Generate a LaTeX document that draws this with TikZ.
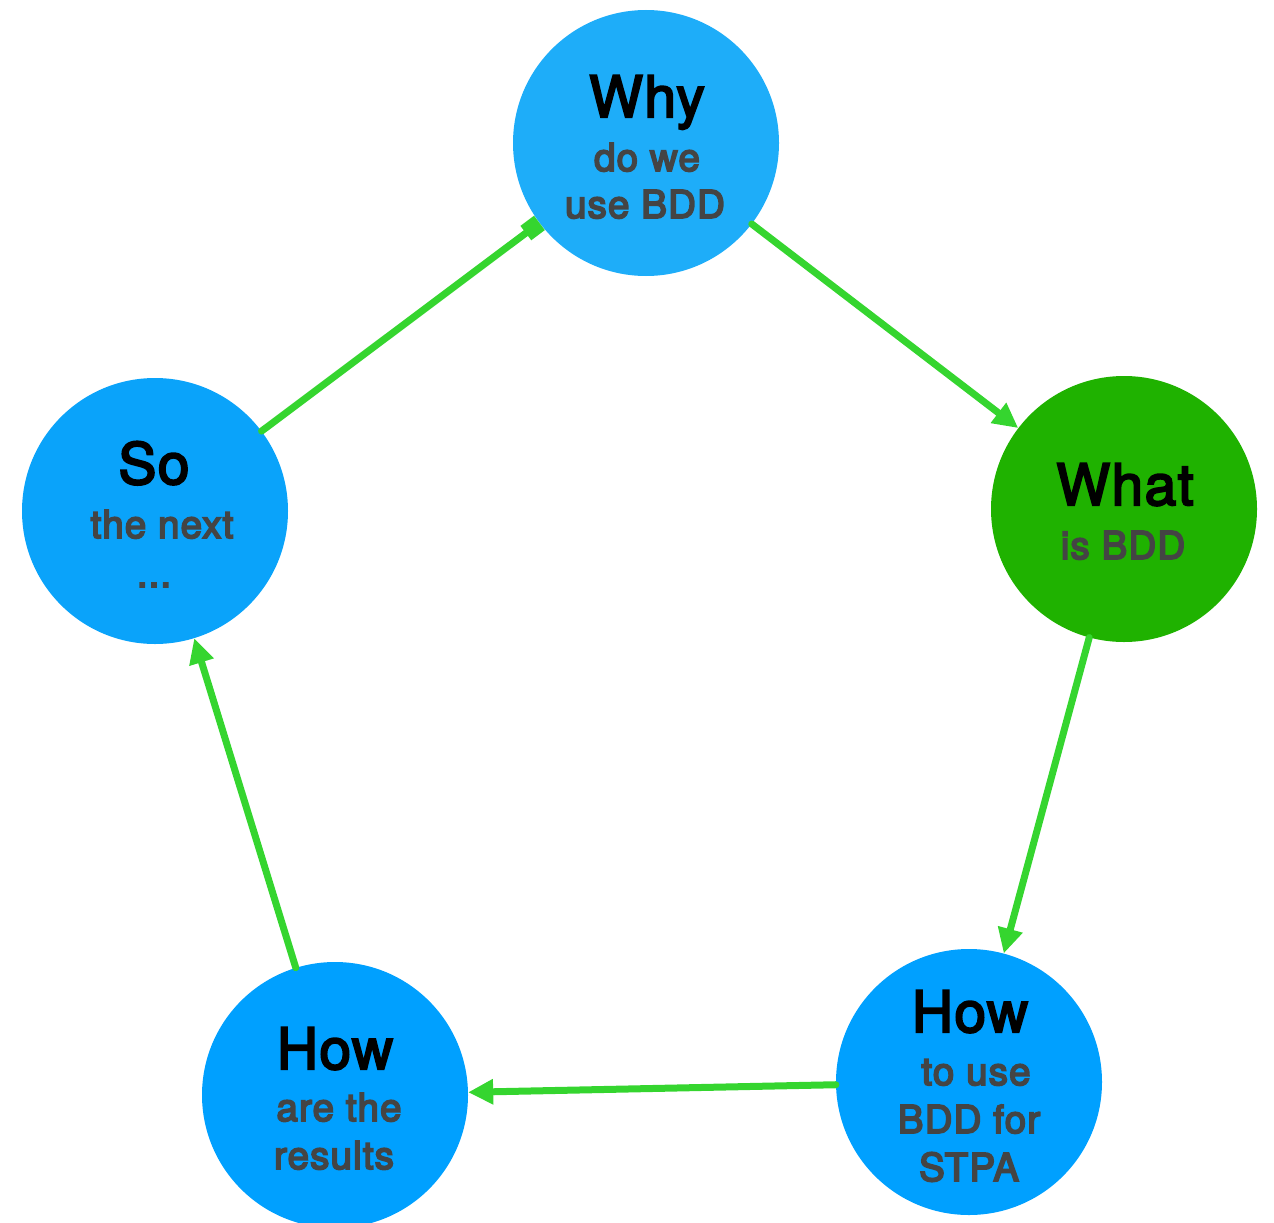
\documentclass[tikz,border=0pt]{standalone}
\usepackage{fontspec}
\setmainfont{TeX Gyre Heros}
\newfontfamily\headfont[FakeBold=3.5,LetterSpace=2.5]{TeX Gyre Heros}
\newfontfamily\subfont[FakeBold=4.5,LetterSpace=3]{TeX Gyre Heros}
\usetikzlibrary{arrows.meta}

\definecolor{whyblue}{HTML}{1EADF9}
\definecolor{soblue}{HTML}{0AA3FA}
\definecolor{howblue}{HTML}{00A0FF}
\definecolor{whatgreen}{HTML}{1FB200}
\definecolor{flowgreen}{HTML}{35D52F}
\definecolor{subgrey}{HTML}{444444}

\tikzset{
  topic/.style={circle, minimum size=266pt, inner sep=0pt, draw=none},
  headline/.style={anchor=base, inner sep=0pt, text=black,
    font=\headfont\fontsize{57}{60}\selectfont},
  subline/.style={anchor=base, inner sep=0pt, text=subgrey,
    font=\subfont\fontsize{38.5}{48}\selectfont},
  flow/.style={draw=flowgreen, line width=7pt, line cap=round,
    -{Triangle[length=25pt,width=24pt]}},
  flowsq/.style={draw=flowgreen, line width=7pt, line cap=round,
    -{Square[length=17pt,width=18pt]}}
}

\begin{document}
\begin{tikzpicture}[x=1pt, y=-1pt]
\useasboundingbox (0,0) rectangle (1274,1223);

% topic circles
\node[topic, fill=whyblue]   (why)  at (646,143)  {};
\node[topic, fill=whatgreen] (what) at (1124,509) {};
\node[topic, fill=howblue]   (howr) at (969,1082) {};
\node[topic, fill=howblue]   (howl) at (335,1095) {};
\node[topic, fill=soblue]    (so)   at (155,511)  {};

% texts
\node[headline] (why-h)  at (647,117)  {Why};
\node[subline]  (why-s1) at (647,171)  {do we};
\node[subline]  (why-s2) at (645,218)  {use BDD};

\node[headline] (what-h)  at (1125,505) {What};
\node[subline]  (what-s1) at (1123,559) {is BDD};

\node[headline] (howr-h)  at (970,1032) {How};
\node[subline]  (howr-s1) at (976,1085) {to use};
\node[subline]  (howr-s2) at (969,1133) {BDD for};
\node[subline]  (howr-s3) at (969,1181) {STPA};

\node[headline] (howl-h)  at (335,1069) {How};
\node[subline]  (howl-s1) at (339,1121) {are the};
\node[subline]  (howl-s2) at (334,1169) {results};

\node[headline] (so-h)  at (154,484) {So};
\node[subline]  (so-s1) at (162,538) {the next};
\node[subline]  (so-s2) at (154,587) {...};

% cycle of connectors
\draw[flowsq] (so) -- (why);
\draw[flow] (why) -- (what);
\draw[flow] (what) -- (howr);
\draw[flow] (howr) -- (howl);
\draw[flow] (howl) -- (so);
\end{tikzpicture}
\end{document}
